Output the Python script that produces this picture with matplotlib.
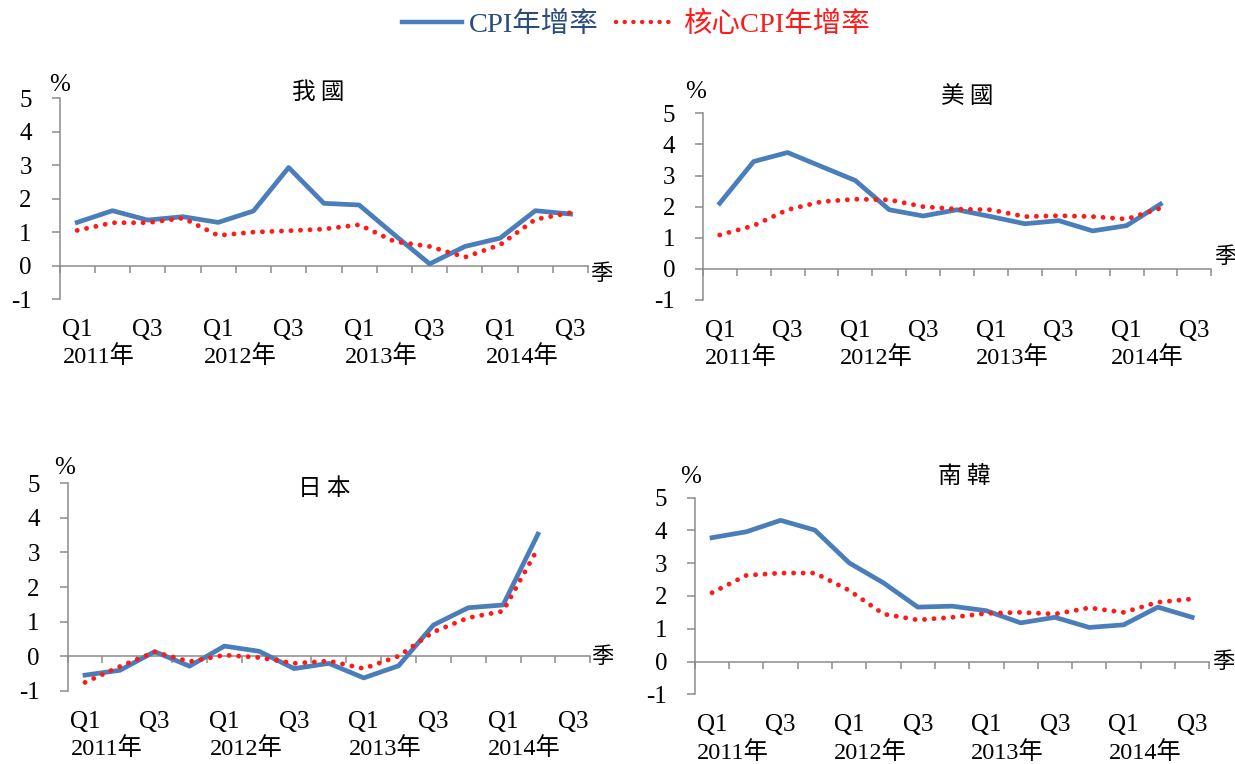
import matplotlib
matplotlib.use('Agg')
import matplotlib.pyplot as plt
from matplotlib.lines import Line2D
import numpy as np

plt.rcParams['font.family'] = ['Liberation Serif', 'Noto Sans CJK TC']

# ---------------- data ----------------
q_labels = ['Q1', '', 'Q3', '', 'Q1', '', 'Q3', '', 'Q1', '', 'Q3', '', 'Q1', '', 'Q3']
year_labels = ['2011年', '2012年', '2013年', '2014年']
year_pos = [0, 4, 8, 12]
y_ticks = [-1, 0, 1, 2, 3, 4, 5]

titles = ['我 國', '美 國', '日 本', '南 韓']

tw_cpi = [1.29, 1.64, 1.36, 1.46, 1.29, 1.63, 2.93, 1.86, 1.81, 0.92, 0.05, 0.57, 0.82, 1.64, 1.54]
tw_core = [1.05, 1.28, 1.28, 1.42, 0.90, 1.00, 1.04, 1.09, 1.22, 0.72, 0.57, 0.25, 0.62, 1.38, 1.58]

us_cpi = [2.11, 3.45, 3.74, 3.29, 2.84, 1.90, 1.70, 1.90, 1.68, 1.45, 1.55, 1.22, 1.39, 2.08]
us_core = [1.09, 1.39, 1.90, 2.16, 2.24, 2.22, 2.00, 1.92, 1.90, 1.68, 1.71, 1.68, 1.60, 1.95]

jp_cpi = [-0.55, -0.41, 0.13, -0.29, 0.29, 0.14, -0.36, -0.21, -0.63, -0.28, 0.90, 1.40, 1.48, 3.53]
jp_core = [-0.76, -0.30, 0.12, -0.16, 0.03, -0.04, -0.21, -0.14, -0.36, 0.00, 0.70, 1.11, 1.30, 3.12]

kr_cpi = [3.78, 3.96, 4.31, 4.01, 3.01, 2.40, 1.66, 1.69, 1.55, 1.18, 1.35, 1.04, 1.12, 1.66, 1.35]
kr_core = [2.10, 2.63, 2.70, 2.70, 2.17, 1.45, 1.27, 1.35, 1.47, 1.50, 1.45, 1.64, 1.50, 1.81, 1.91]

series_cpi = [tw_cpi, us_cpi, jp_cpi, kr_cpi]
series_core = [tw_core, us_core, jp_core, kr_core]

legend_labels = ['CPI年增率', '核心CPI年增率']

# ---------------- style / layout ----------------
BLUE = '#4A7EBB'
RED = '#FF1A1A'
GRAY = '#8C8C8C'
DOT = (0, (0.01, 1.95))

W, H = 1235, 764
# axes rects in pixels: left, right, top(y=5), bottom(y=-1)
rects_px = [(59.6, 588.2, 98.3, 299.0), (702.8, 1211.3, 113.3, 300.0),
            (67.6, 590.2, 483.3, 690.7), (694.9, 1209.3, 497.7, 694.3)]
title_off = [(-6, 6), (10, 16), (-5, -5), (12, 21)]
pct_off = [(0, 13), (-7, 21), (-3, 15), (-4, 21)]
season_off = [(13, -8), (14, 12), (12, 0), (14, 0)]

fig = plt.figure(figsize=(W / 100, H / 100), dpi=100)

for i in range(4):
    l, r, t, b = rects_px[i]
    ax = fig.add_axes([l / W, 1 - b / H, (r - l) / W, (b - t) / H])
    cpi = series_cpi[i]
    core = series_core[i]
    ax.plot(np.arange(len(cpi)), cpi, color=BLUE, lw=3.4, solid_joinstyle='round', zorder=3)
    ax.plot(np.arange(len(core)), core, color=RED, lw=3.5, linestyle=DOT,
            dash_capstyle='round', zorder=4)
    ax.set_xlim(-0.5, len(q_labels) - 0.5)
    ax.set_ylim(-1, 5)
    for s in ['top', 'right']:
        ax.spines[s].set_visible(False)
    ax.spines['bottom'].set_position(('data', 0))
    for s in ['bottom', 'left']:
        ax.spines[s].set_color(GRAY)
        ax.spines[s].set_linewidth(1.1)
    ax.set_xticks(np.arange(-0.5, len(q_labels), 1))
    ax.set_xticklabels([])
    ax.set_yticks(y_ticks)
    ax.set_yticklabels([str(v) for v in y_ticks])
    ax.tick_params(axis='x', direction='out', length=5, width=1.1, color=GRAY)
    ax.tick_params(axis='y', direction='out', length=6, width=1.1, color=GRAY,
                   pad=14, labelsize=18)
    for j, lab in enumerate(q_labels):
        if lab:
            ax.annotate(lab, xy=(j, 0), xycoords=('data', 'axes fraction'),
                        xytext=(0, -31), textcoords='offset pixels',
                        ha='center', va='center', fontsize=18)
    for pos, yl in zip(year_pos, year_labels):
        ax.annotate(yl, xy=(pos + 0.62, 0), xycoords=('data', 'axes fraction'),
                    xytext=(0, -58), textcoords='offset pixels',
                    ha='center', va='center', fontsize=17.5)
    ax.annotate(titles[i], xy=(0.5, 1), xycoords='axes fraction',
                xytext=title_off[i], textcoords='offset pixels',
                ha='center', va='center', fontsize=17, family='Noto Sans CJK TC')
    ax.annotate('%', xy=(0, 1), xycoords='axes fraction',
                xytext=pct_off[i], textcoords='offset pixels',
                ha='center', va='center', fontsize=18)
    ax.annotate('季', xy=(1, 0), xycoords=('axes fraction', 'data'),
                xytext=season_off[i], textcoords='offset pixels',
                ha='center', va='center', fontsize=16, family='Noto Sans CJK TC')

handles = [Line2D([], [], color=BLUE, lw=3.2),
           Line2D([], [], color=RED, lw=3.2, linestyle=DOT, dash_capstyle='round')]
leg = fig.legend(handles, legend_labels, loc='center', bbox_to_anchor=(0.515, 1 - 25 / H),
                 ncol=2, frameon=False, fontsize=20.5, handlelength=2.1,
                 handletextpad=0.25, columnspacing=0.6)
for txt, c in zip(leg.get_texts(), ['#2B4C7E', RED]):
    txt.set_color(c)

fig.savefig('out.png', dpi=100)
